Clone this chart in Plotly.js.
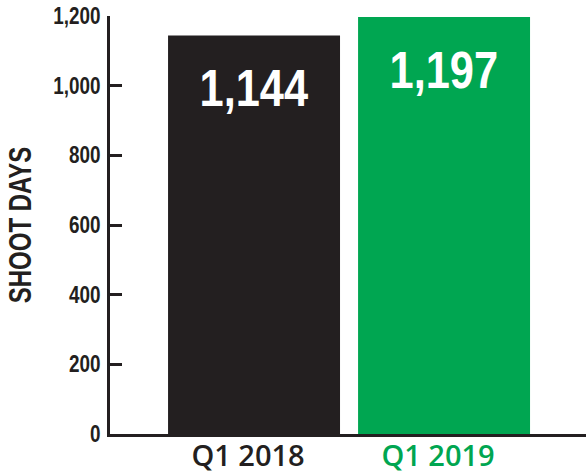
<!DOCTYPE html>
<html>
<head>
<meta charset="utf-8">
<script src="https://cdn.plot.ly/plotly-3.0.1.min.js"></script>
<style>
html,body{margin:0;padding:0;background:#fff;}
#chart{width:586px;height:472px;}
</style>
</head>
<body>
<div id="chart"></div>
<script>
const categories = ["Q1 2018", "Q1 2019"];
const shootDays = [1144, 1197];
const barColors = ["#231f20", "#00a651"];
const labelColors = ["#231f20", "#00a651"];
const yTicks = [0, 200, 400, 600, 800, 1000, 1200];

const FONT = "'Liberation Sans', Arial, sans-serif";
const XFONT = "'Open Sans', sans-serif";
const fmt = v => v.toLocaleString("en-US");

const trace = {
  type: "bar",
  x: categories,
  y: shootDays,
  marker: { color: barColors, line: { width: 0 } },
  width: 0.905,
  hoverinfo: "none"
};

const annotations = categories.map((c, i) => ({
  x: c, y: shootDays[i], xref: "x", yref: "y",
  text: fmt(shootDays[i]),
  showarrow: false,
  yanchor: "middle",
  yshift: -53,
  font: { family: FONT, size: 51, weight: 700, color: "#ffffff" }
}));

const layout = {
  width: 586, height: 472,
  margin: { l: 110, r: 0, t: 16, b: 38, pad: 0 },
  paper_bgcolor: "#ffffff",
  plot_bgcolor: "#ffffff",
  showlegend: false,
  font: { family: FONT, color: "#231f20" },
  xaxis: {
    type: "category",
    range: [-0.758, 1.747],
    showline: true, linecolor: "#231f20", linewidth: 3,
    showgrid: false, zeroline: false,
    ticks: "",
    tickvals: categories,
    ticktext: categories.map((c, i) => '<span style="color:' + labelColors[i] + '">' + c + '</span>'),
    tickfont: { family: XFONT, size: 29, weight: 600, color: "#231f20" },
    ticklabelstandoff: -6,
    ticklabelshift: -6
  },
  yaxis: {
    range: [0, 1200],
    showline: true, linecolor: "#231f20", linewidth: 3,
    showgrid: false, zeroline: false,
    ticks: "inside", ticklen: 12, tickwidth: 3, tickcolor: "#231f20",
    tickvals: yTicks,
    ticktext: yTicks.map(v => fmt(v)),
    tickfont: { family: FONT, size: 23, weight: 700, color: "#231f20" },
    ticklabelstandoff: 2,
    title: { text: "SHOOT DAYS", font: { family: FONT, size: 32, weight: 700, color: "#231f20" }, standoff: 2 }
  },
  annotations: annotations
};

Plotly.newPlot("chart", [trace], layout, { displayModeBar: false, staticPlot: true }).then(gd => {
  // the reference typeface is a condensed bold; squeeze the glyphs horizontally
  const condense = (sel, f) => gd.querySelectorAll(sel).forEach(t => {
    const L = t.getComputedTextLength();
    t.setAttribute("textLength", (L * f).toFixed(1));
    t.setAttribute("lengthAdjust", "spacingAndGlyphs");
  });
  condense(".ytick text", 0.82);
  condense(".g-ytitle text", 0.75);
  condense(".annotation-text", 0.85);
});
</script>
</body>
</html>
